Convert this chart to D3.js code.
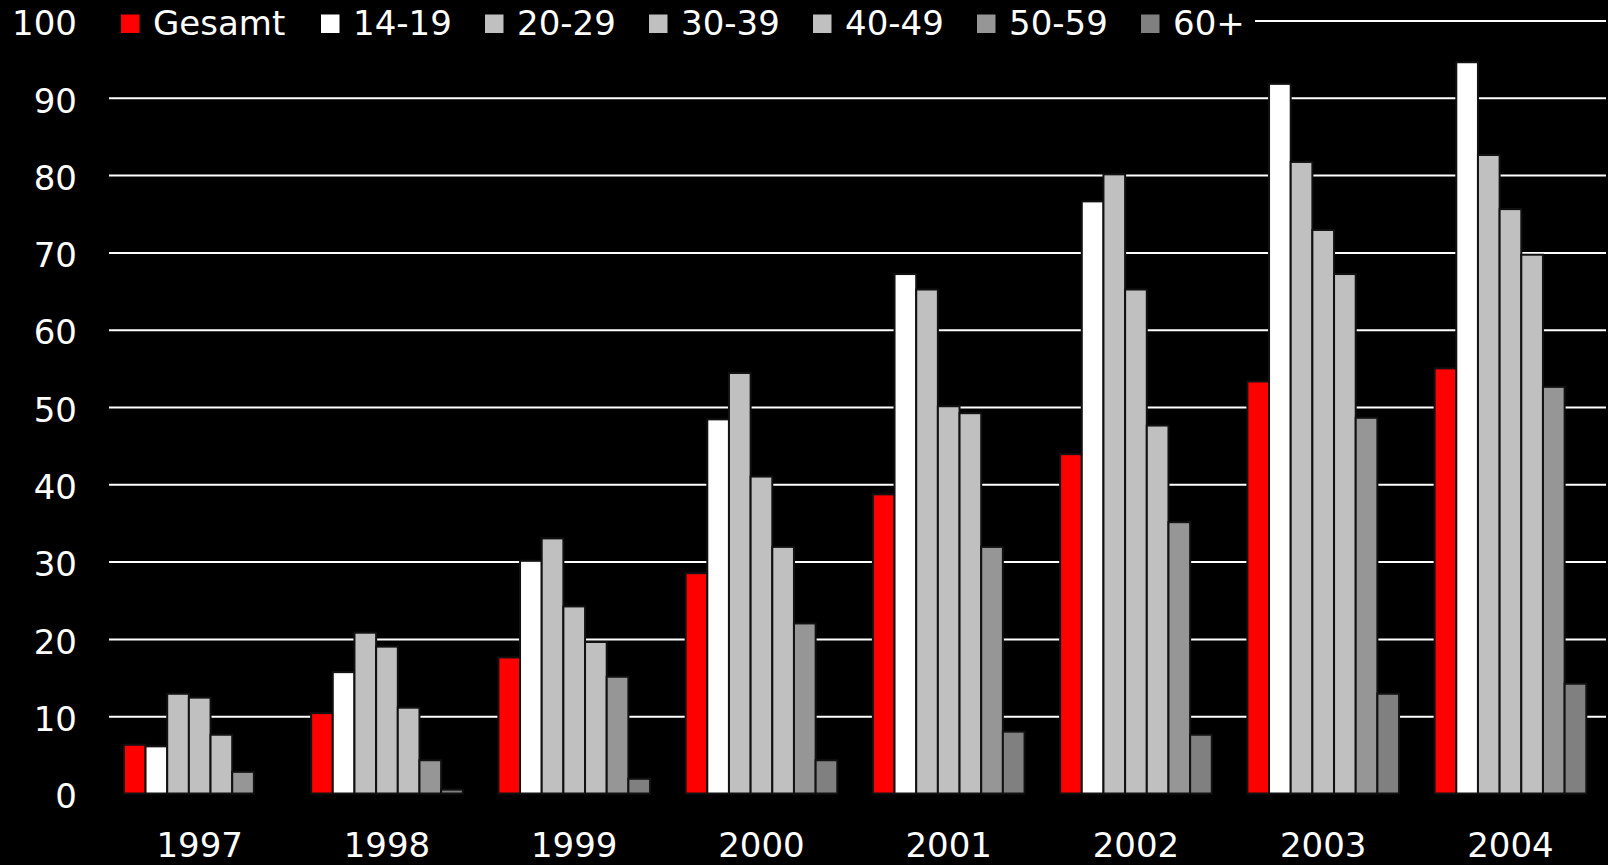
<!DOCTYPE html>
<html>
<head>
<meta charset="utf-8">
<script src="https://cdn.jsdelivr.net/npm/d3@7"></script>
<style>
  html, body { margin: 0; padding: 0; background: #000; }
  svg { display: block; }
  text { font-family: "DejaVu Sans", sans-serif; fill: #fff; }
</style>
</head>
<body>
<svg id="chart" width="1608" height="865"></svg>
<script>
// Jahre (Kategorien)
const years = ["1997", "1998", "1999", "2000", "2001", "2002", "2003", "2004"];

// Altersgruppen (Serien)
const seriesNames = ["Gesamt", "14-19", "20-29", "30-39", "40-49", "50-59", "60+"];
const seriesColors = ["#ff0000", "#ffffff", "#c0c0c0", "#c0c0c0", "#c0c0c0", "#969696", "#808080"];

// Werte je Altersgruppe, 1997 bis 2004 (in Prozent)
const gesamt = [6.3, 10.4, 17.6, 28.5, 38.7, 43.9, 53.3, 55.0];
const age1419 = [6.1, 15.7, 30.1, 48.4, 67.2, 76.6, 91.8, 94.6];
const age2029 = [12.9, 20.8, 33.0, 54.4, 65.2, 80.1, 81.7, 82.6];
const age3039 = [12.4, 19.0, 24.2, 41.0, 50.1, 65.2, 72.9, 75.6];
const age4049 = [7.6, 11.1, 19.6, 31.9, 49.2, 47.6, 67.2, 69.7];
const age5059 = [2.8, 4.3, 15.1, 22.0, 31.9, 35.1, 48.6, 52.6];
const age60 = [0, 0.5, 1.9, 4.3, 8.0, 7.6, 12.9, 14.2];

// Y-Achse
const yTicks = [0, 10, 20, 30, 40, 50, 60, 70, 80, 90, 100];

const seriesValues = [gesamt, age1419, age2029, age3039, age4049, age5059, age60];

const svg = d3.select("#chart");
const W = 1608, H = 865;
const plotLeft = 110, plotRight = 1606;
const yBottom = 793.5, yTop = 20.5;

svg.append("rect").attr("width", W).attr("height", H).attr("fill", "#000");

const y = d3.scaleLinear().domain([0, 100]).range([yBottom, yTop]);

// Gruppen je Jahr
const x0 = d3.scaleBand()
  .domain(years)
  .range([plotLeft, 1608])
  .paddingInner(0.19)
  .paddingOuter(0.095)
  .align(0.39);

const x1 = d3.scaleBand()
  .domain(seriesNames)
  .range([0, x0.bandwidth()])
  .padding(0);

// Gitterlinien und Beschriftung der Y-Achse
const yAxis = svg.append("g")
  .attr("transform", `translate(${plotLeft - 1},0)`)
  .call(d3.axisLeft(y)
    .tickValues(yTicks)
    .tickFormat(d3.format("d"))
    .tickSize(-(plotRight - plotLeft + 1))
    .tickPadding(32));
yAxis.select(".domain").remove();
yAxis.selectAll(".tick line")
  .attr("stroke", "#fff")
  .attr("stroke-width", 2)
  .attr("opacity", d => d === 0 ? 0 : 1);
yAxis.selectAll(".tick text")
  .attr("fill", "#fff")
  .attr("dy", "0.42em")
  .style("font-size", "34px")
  .style("font-family", "'DejaVu Sans', sans-serif");

// Balken
const rows = years.map((yr, i) => ({
  year: yr,
  values: seriesNames.map((s, j) => ({ key: s, value: seriesValues[j][i], color: seriesColors[j] }))
}));

const groups = svg.append("g").selectAll("g")
  .data(rows)
  .join("g")
  .attr("transform", d => `translate(${x0(d.year)},0)`);

groups.selectAll("rect")
  .data(d => d.values.filter(v => v.value > 0))
  .join("rect")
  .attr("x", d => x1(d.key))
  .attr("y", d => y(d.value))
  .attr("width", x1.bandwidth())
  .attr("height", d => yBottom - y(d.value))
  .attr("fill", d => d.color)
  .attr("stroke", "#111")
  .attr("stroke-width", 2);

// X-Achse (Jahre)
const xAxis = svg.append("g")
  .attr("transform", `translate(0,${yBottom})`)
  .call(d3.axisBottom(x0).tickSize(0).tickPadding(39));
xAxis.select(".domain").remove();
xAxis.selectAll(".tick text")
  .attr("fill", "#fff")
  .style("font-size", "34px")
  .style("font-family", "'DejaVu Sans', sans-serif");

// Legende
const legend = svg.append("g");
legend.append("rect")
  .attr("x", 100).attr("y", 0)
  .attr("width", 1155).attr("height", 46)
  .attr("fill", "#000");

const legendItems = legend.selectAll("g.item")
  .data(seriesNames)
  .join("g")
  .attr("class", "item")
  .attr("transform", (d, i) => `translate(${i === 0 ? 121 : 321 + (i - 1) * 164},0)`);

legendItems.append("rect")
  .attr("x", 0).attr("y", 14.5)
  .attr("width", 18.5).attr("height", 18.5)
  .attr("fill", (d, i) => seriesColors[i]);

legendItems.append("text")
  .attr("x", 32)
  .attr("y", 35)
  .style("font-size", "34px")
  .text(d => d);
</script>
</body>
</html>
